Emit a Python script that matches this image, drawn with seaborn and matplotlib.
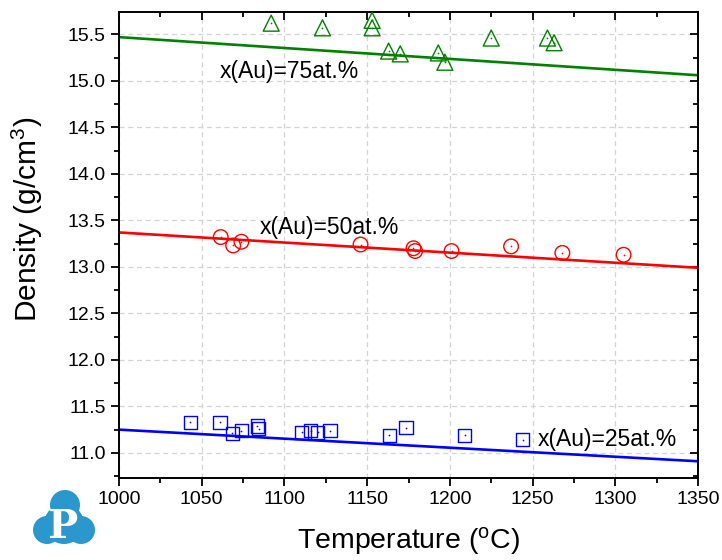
import numpy as np
import pandas as pd
import matplotlib
matplotlib.use("Agg")
import matplotlib.pyplot as plt
from matplotlib.patches import Circle
import seaborn as sns

# Measured densities (g/cm^3) vs. temperature (°C)
t_au75 = [1092, 1123, 1153, 1153, 1163, 1170, 1193, 1197, 1225, 1259, 1263]
d_au75 = [15.62, 15.57, 15.65, 15.57, 15.32, 15.29, 15.30, 15.20, 15.46, 15.46, 15.41]

t_au50 = [1061.5, 1069, 1074, 1146, 1178, 1179, 1201, 1237, 1268, 1305]
d_au50 = [13.32, 13.23, 13.27, 13.24, 13.20, 13.17, 13.17, 13.22, 13.15, 13.13]

t_au25 = [1043, 1061, 1068.5, 1074, 1083.5, 1084.5, 1110.5, 1116, 1120, 1127.5,
          1163.5, 1173.5, 1209, 1244]
d_au25 = [11.33, 11.33, 11.21, 11.24, 11.29, 11.26, 11.22, 11.24, 11.22, 11.24,
          11.19, 11.27, 11.19, 11.14]

# Model lines (end points over the temperature range)
t_line = [1000, 1350]
d_line75 = [15.47, 15.06]
d_line50 = [13.37, 12.99]
d_line25 = [11.25, 10.91]

labels = ["x(Au)=75at.%", "x(Au)=50at.%", "x(Au)=25at.%"]
label_pos = [(1061, 15.10), (1085, 13.42), (1253, 11.14)]

sns.set_style("ticks")
plt.rcParams["font.family"] = ["Liberation Sans", "DejaVu Sans"]
plt.rcParams["mathtext.fontset"] = "custom"
plt.rcParams["mathtext.rm"] = "Liberation Sans"
plt.rcParams["mathtext.it"] = "Liberation Sans:italic"
plt.rcParams["mathtext.default"] = "regular"
plt.rcParams["text.color"] = "black"
plt.rcParams["axes.labelcolor"] = "black"
plt.rcParams["xtick.color"] = "black"
plt.rcParams["ytick.color"] = "black"

fig = plt.figure(figsize=(7.22, 5.60), dpi=100)
ax = fig.add_axes([119 / 722, 1 - 478 / 560, (698 - 119) / 722, (478 - 12) / 560])

colors = {"75": "#008000", "50": "#ff0000", "25": "#0000ff"}

for tl, dl, c in [(t_line, d_line75, colors["75"]),
                  (t_line, d_line50, colors["50"]),
                  (t_line, d_line25, colors["25"])]:
    sns.lineplot(x=tl, y=dl, color=c, linewidth=1.9, ax=ax, zorder=2)

series = [(t_au75, d_au75, "^", 11.5, colors["75"]),
          (t_au50, d_au50, "o", 10.5, colors["50"]),
          (t_au25, d_au25, "s", 9.5, colors["25"])]
for t, d, m, ms, c in series:
    df = pd.DataFrame({"T": t, "D": d})
    sns.scatterplot(data=df, x="T", y="D", marker=m, s=ms ** 2,
                    facecolor="none", edgecolor=c, linewidth=1.0, ax=ax, zorder=3)
    sns.scatterplot(data=df, x="T", y="D", marker="o", s=1.5,
                    color=c, linewidth=0, ax=ax, zorder=4)

for (x, y), txt in zip(label_pos, labels):
    ax.text(x, y, txt, fontsize=16.5, ha="left", va="center", color="black", zorder=5)

ax.set_xlim(1000, 1350)
ax.set_ylim(10.73, 15.74)
ax.set_xticks(np.arange(1000, 1351, 50))
ax.set_yticks(np.arange(11.0, 15.51, 0.5))
ax.set_yticklabels([f"{v:.1f}" for v in np.arange(11.0, 15.51, 0.5)])
ax.set_xticks(np.arange(1025, 1350, 50), minor=True)
ax.set_yticks(np.arange(10.75, 15.74, 0.5), minor=True)

ax.grid(True, which="major", linestyle=(0, (4, 3)), color="#d4d4d4", linewidth=0.9)
ax.set_axisbelow(True)

for s in ax.spines.values():
    s.set_linewidth(1.4)
    s.set_color("black")
    s.set_visible(True)

ax.tick_params(axis="both", which="major", labelsize=14, length=6, width=1.3,
               direction="out", colors="black")
ax.tick_params(axis="both", which="minor", length=3.5, width=1.3, direction="out")
ax.tick_params(axis="x", which="both", top=True)
ax.tick_params(axis="y", which="both", right=True)

# Mirrored ticks on top and right point inward
for tk in ax.xaxis.get_major_ticks() + ax.xaxis.get_minor_ticks():
    tk.tick2line.set_marker(matplotlib.lines.TICKDOWN)
for tk in ax.yaxis.get_major_ticks() + ax.yaxis.get_minor_ticks():
    tk.tick2line.set_marker(matplotlib.lines.TICKLEFT)

ax.set_xlabel("Temperature ($^{o}$C)", fontsize=20.5, labelpad=12)
ax.set_ylabel("Density (g/cm$^{3}$)", fontsize=21.5)
ax.yaxis.set_label_coords(-0.128, 0.555)

# Brand mark in the lower-left corner (pixel positions from the top-left, drawn in inches)
logo_c = "#2a98cc"
H = 5.60
for cx, cy, r in [(65, 505, 15), (47, 530, 14), (81, 530, 14), (64, 524, 20)]:
    fig.patches.append(Circle((cx / 100, H - cy / 100), r / 100,
                              transform=fig.dpi_scale_trans, facecolor=logo_c,
                              edgecolor="none"))
fig.text(62 / 722, 1 - 527 / 560, "P", fontsize=29, fontweight="bold",
         family="DejaVu Serif", color="white", ha="center", va="center")

fig.savefig("out.png", dpi=100)
